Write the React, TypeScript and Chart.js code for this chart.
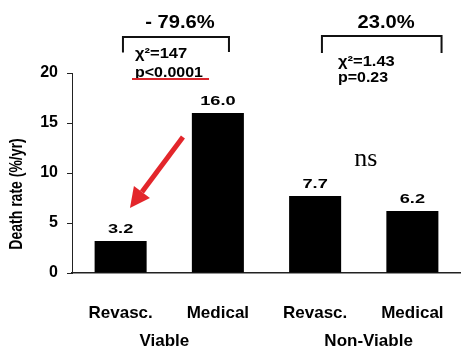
import React, { useEffect, useRef } from "react";
import { Chart, registerables } from "chart.js";

Chart.register(...registerables);

const categories = ["Revasc.", "Medical", "Revasc.", "Medical"];
const groups = ["Viable", "Non-Viable"];
const deathRates = [3.2, 16.0, 7.7, 6.2];
const yTickValues = [0, 5, 10, 15, 20];
const changes = ["- 79.6%", "23.0%"];
const chiSquares = ["χ²=147", "χ²=1.43"];
const pValues = ["p<0.0001", "p=0.23"];
const nsLabel = "ns";
const yTitle = "Death rate (%/yr)";

const SANS = '"Liberation Sans", Arial, sans-serif';
const SERIF = '"Liberation Serif", "Times New Roman", serif';

function drawText(
  ctx: CanvasRenderingContext2D,
  s: string,
  x: number,
  y: number,
  font: string,
  align: CanvasTextAlign,
  sx = 1,
  color = "#000",
  baseline: CanvasTextBaseline = "middle",
  sy = 1
) {
  ctx.save();
  ctx.font = font;
  ctx.fillStyle = color;
  ctx.textAlign = align;
  ctx.textBaseline = baseline;
  ctx.translate(x, y);
  ctx.scale(sx, sy);
  ctx.fillText(s, 0, 0);
  ctx.restore();
}

const annotationPlugin = {
  id: "annotations",
  afterDraw(chart: any) {
    const ctx: CanvasRenderingContext2D = chart.ctx;
    const xs = chart.scales.x;
    const ys = chart.scales.y;
    const X = (v: number) => xs.getPixelForValue(v);
    const Y = (v: number) => ys.getPixelForValue(v);

    // value labels above bars
    const meta = chart.getDatasetMeta(0);
    meta.data.forEach((bar: any, i: number) => {
      drawText(ctx, deathRates[i].toFixed(1), bar.x, bar.y - 12, `bold 13px ${SANS}`, "center", 1.4);
    });

    // group labels
    drawText(ctx, groups[0], X(0.45), Y(-6.8), `bold 17px ${SANS}`, "center");
    drawText(ctx, groups[1], X(2.55), Y(-6.8), `bold 17px ${SANS}`, "center");

    // y title
    ctx.save();
    ctx.translate(17, Y(7.9));
    ctx.rotate(-Math.PI / 2);
    drawText(ctx, yTitle, 0, 0, `bold 14px ${SANS}`, "center", 1, "#000", "middle", 1.25);
    ctx.restore();

    // brackets
    ctx.save();
    ctx.strokeStyle = "#111";
    ctx.lineWidth = 2;
    ctx.beginPath();
    ctx.moveTo(X(0.024), Y(22.05));
    ctx.lineTo(X(0.024), Y(23.6));
    ctx.lineTo(X(1.114), Y(23.6));
    ctx.lineTo(X(1.114), Y(22.1));
    ctx.moveTo(X(2.07), Y(22.0));
    ctx.lineTo(X(2.07), Y(23.7));
    ctx.lineTo(X(3.3), Y(23.7));
    ctx.lineTo(X(3.3), Y(22.0));
    ctx.stroke();
    ctx.restore();

    // percent changes
    drawText(ctx, changes[0], X(0.61), Y(25.0), `bold 18px ${SANS}`, "center", 1.12);
    drawText(ctx, changes[1], X(2.73), Y(25.0), `bold 18px ${SANS}`, "center", 1.12);

    // statistics
    drawText(ctx, chiSquares[0], X(0.148), Y(21.9), `bold 14px ${SANS}`, "left", 1.18);
    drawText(ctx, pValues[0], X(0.148), Y(20.0), `bold 14px ${SANS}`, "left", 1.14);
    drawText(ctx, chiSquares[1], X(2.235), Y(21.1), `bold 14px ${SANS}`, "left", 1.18);
    drawText(ctx, pValues[1], X(2.235), Y(19.45), `bold 14px ${SANS}`, "left", 1.14);

    // red underline
    ctx.save();
    ctx.strokeStyle = "#d8262c";
    ctx.lineWidth = 2;
    ctx.beginPath();
    ctx.moveTo(X(0.117), Y(19.4));
    ctx.lineTo(X(0.909), Y(19.4));
    ctx.stroke();
    ctx.restore();

    // ns
    drawText(ctx, nsLabel, X(2.52), Y(10.7), `26px ${SERIF}`, "center", 1, "#000", "alphabetic");

    // red arrow
    const tx = X(0.641), ty = Y(13.6);
    const hx = X(0.096), hy = Y(6.5);
    const ang = Math.atan2(hy - ty, hx - tx);
    const headLen = 20, headHalf = 10;
    const bx = hx - headLen * Math.cos(ang);
    const by = hy - headLen * Math.sin(ang);
    ctx.save();
    ctx.strokeStyle = "#e3262b";
    ctx.fillStyle = "#e3262b";
    ctx.lineWidth = 5;
    ctx.beginPath();
    ctx.moveTo(tx, ty);
    ctx.lineTo(bx, by);
    ctx.stroke();
    ctx.beginPath();
    ctx.moveTo(hx, hy);
    ctx.lineTo(bx + headHalf * Math.sin(ang), by - headHalf * Math.cos(ang));
    ctx.lineTo(bx - headHalf * Math.sin(ang), by + headHalf * Math.cos(ang));
    ctx.closePath();
    ctx.fill();
    ctx.restore();
  },
};

export default function App() {
  const ref = useRef<HTMLCanvasElement>(null);
  useEffect(() => {
    if (!ref.current) return;
    const chart = new Chart(ref.current, {
      type: "bar",
      data: {
        labels: categories,
        datasets: [
          {
            data: deathRates,
            backgroundColor: "#000",
            borderWidth: 0,
            barPercentage: 0.535,
            categoryPercentage: 1,
          },
        ],
      },
      options: {
        animation: false,
        responsive: true,
        maintainAspectRatio: false,
        layout: { padding: { top: 73, left: 0, right: 0, bottom: 0 } },
        plugins: { legend: { display: false }, tooltip: { enabled: false }, title: { display: false } },
        scales: {
          x: {
            type: "category",
            grid: { display: false, drawTicks: true, tickLength: 30 },
            border: { display: true, color: "#222", width: 1.5 },
            ticks: { color: "#000", font: { family: SANS, size: 17, weight: "bold" }, padding: 0, maxRotation: 0 },
            afterFit: (s: any) => { s.height = 73; },
          },
          y: {
            min: 0,
            max: 20,
            afterBuildTicks: (s: any) => { s.ticks = yTickValues.map((v) => ({ value: v })); },
            grid: { display: true, drawOnChartArea: false, drawTicks: true, tickLength: 5, color: "#222" },
            border: { display: true, color: "#222", width: 1 },
            ticks: { color: "#000", font: { family: SANS, size: 16, weight: "bold" }, padding: 9 },
            afterFit: (s: any) => { s.width = 72; },
          },
        },
      },
      plugins: [annotationPlugin],
    } as any);
    return () => chart.destroy();
  }, []);
  return (
    <div style={{ position: "fixed", left: 0, top: 0, width: 461, height: 346, background: "#fff" }}>
      <canvas ref={ref} />
    </div>
  );
}
